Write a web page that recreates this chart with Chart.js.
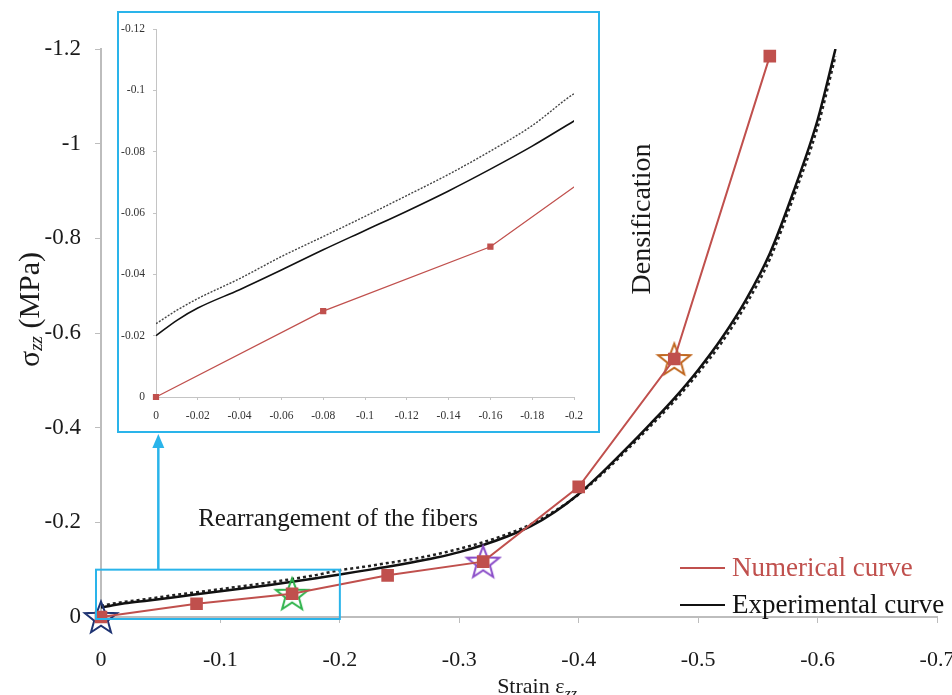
<!DOCTYPE html>
<html>
<head>
<meta charset="utf-8">
<script src="https://cdn.jsdelivr.net/npm/chart.js@4.4.1/dist/chart.umd.min.js"></script>
<style>
  body { margin: 0; background: #fff; }
  #wrap { position: relative; width: 952px; height: 695px; }
  #mainChart { position: absolute; left: 0; top: 0; }
  #insetBox {
    position: absolute; left: 117px; top: 11px;
    width: 479px; height: 418px;
    border: 2px solid #2ab4ea; background: #fff;
  }
  #insetChart { position: absolute; left: 0; top: 0; }
</style>
</head>
<body>
<div id="wrap">
  <canvas id="mainChart" width="952" height="695"></canvas>
  <div id="insetBox"><canvas id="insetChart" width="479" height="418"></canvas></div>
</div>
<script>
// Numerical model (red squares)
const numStrain = [0, -0.08, -0.16, -0.24, -0.32, -0.40, -0.48, -0.56];
const numStress = [0, -0.028, -0.049, -0.088, -0.117, -0.275, -0.545, -1.185];

// Experimental curve (solid) and its repeat (dashed)
const expStrain = [0, -0.01, -0.02, -0.04, -0.06, -0.08, -0.10, -0.12, -0.14, -0.16, -0.18, -0.20,
                   -0.22, -0.24, -0.26, -0.28, -0.30, -0.32, -0.34, -0.36, -0.38, -0.40,
                   -0.42, -0.44, -0.46, -0.48, -0.50, -0.52, -0.54, -0.56, -0.58, -0.60, -0.615];
const expStress = [-0.0200, -0.0250, -0.0290, -0.0350, -0.0414, -0.0480, -0.0543, -0.0606, -0.0672, -0.0743, -0.0818, -0.0900,
                   -0.098, -0.106, -0.115, -0.125, -0.137, -0.152, -0.170, -0.192, -0.222, -0.260,
                   -0.306, -0.356, -0.408, -0.462, -0.522, -0.590, -0.670, -0.768, -0.900, -1.050, -1.200];
const expStressDash = [-0.0239, -0.0283, -0.0321, -0.0386, -0.0458, -0.0523, -0.0589, -0.0657, -0.0726, -0.0802, -0.0885, -0.0989,
                   -0.106, -0.114, -0.122, -0.132, -0.144, -0.158, -0.175, -0.196, -0.224, -0.259,
                   -0.303, -0.352, -0.403, -0.456, -0.515, -0.581, -0.660, -0.756, -0.888, -1.035, -1.185];

// Stage markers
const starStrain = [0, -0.16, -0.32, -0.48];
const starStress = [0, -0.049, -0.117, -0.545];
const starColors = ['#1f3473', '#2db34a', '#8a4cc8', '#c0671f'];

// Axis ticks
const mainXTicks = [0, -0.1, -0.2, -0.3, -0.4, -0.5, -0.6, -0.7];
const mainYTicks = [0, -0.2, -0.4, -0.6, -0.8, -1, -1.2];

const RED = '#c0504d';
const BLUE = '#2ab4ea';
const SERIF = '"Liberation Serif", "Times New Roman", serif';

function pts(xs, ys) {
    return xs.map((x, i) => ({ x: x, y: ys[i] }));
}

function fmt(v, d) {
    const r = parseFloat(v.toFixed(d));
    return r === 0 ? '0' : String(r);
}

// five-point outlined star used as a point style
function makeStar(color, r) {
    const c = document.createElement('canvas');
    const s = Math.ceil(2 * r + 4);
    c.width = s; c.height = s;
    const g = c.getContext('2d');
    g.strokeStyle = color;
    g.lineWidth = 2;
    g.lineJoin = 'miter';
    g.beginPath();
    for (let i = 0; i < 10; i++) {
        const rad = i % 2 === 0 ? r : r * 0.42;
        const a = -Math.PI / 2 + i * Math.PI / 5;
        const px = s / 2 + rad * Math.cos(a);
        const py = s / 2 + 1.5 + rad * Math.sin(a);
        if (i === 0) g.moveTo(px, py); else g.lineTo(px, py);
    }
    g.closePath();
    g.stroke();
    return c;
}

const starImages = starColors.map(c => makeStar(c, 17));

// overlays: zoom box, arrow, notes, legend, axis titles
const mainOverlay = {
    id: 'mainOverlay',
    afterDatasetsDraw(chart) {
        const ctx = chart.ctx;
        const xs = chart.scales.x, ys = chart.scales.y;
        ctx.save();

        // box around the zoomed region
        const x0 = xs.getPixelForValue(0) - 5, x1 = xs.getPixelForValue(-0.2);
        const y0 = ys.getPixelForValue(-0.1), y1 = ys.getPixelForValue(0) + 2;
        ctx.strokeStyle = BLUE;
        ctx.lineWidth = 2;
        ctx.strokeRect(x0, y0, x1 - x0, y1 - y0);

        // arrow up to the inset
        const ax = xs.getPixelForValue(-0.048);
        ctx.lineWidth = 2.5;
        ctx.beginPath();
        ctx.moveTo(ax, y0);
        ctx.lineTo(ax, 446);
        ctx.stroke();
        ctx.fillStyle = BLUE;
        ctx.beginPath();
        ctx.moveTo(ax, 434);
        ctx.lineTo(ax - 6, 448);
        ctx.lineTo(ax + 6, 448);
        ctx.closePath();
        ctx.fill();

        // stage notes
        ctx.fillStyle = '#1a1a1a';
        ctx.font = '25px ' + SERIF;
        ctx.textAlign = 'center';
        ctx.textBaseline = 'middle';
        ctx.fillText('Rearrangement of the fibers', 338, 519);
        ctx.save();
        ctx.translate(643, 219);
        ctx.rotate(-Math.PI / 2);
        ctx.font = '28px ' + SERIF;
        ctx.fillText('Densification', 0, 0);
        ctx.restore();

        // legend
        const ds = chart.data.datasets;
        const items = [
            { label: ds[0].label, color: RED, y: 568 },
            { label: ds[2].label, color: '#111', y: 605 }
        ];
        ctx.font = '27px ' + SERIF;
        ctx.textAlign = 'left';
        items.forEach(it => {
            ctx.strokeStyle = it.color;
            ctx.lineWidth = 2;
            ctx.beginPath();
            ctx.moveTo(680, it.y);
            ctx.lineTo(725, it.y);
            ctx.stroke();
            ctx.fillStyle = it.color;
            ctx.fillText(it.label, 732, it.y + 1);
        });

        // y axis title: sigma_zz (MPa)
        ctx.fillStyle = '#1a1a1a';
        ctx.save();
        ctx.translate(39, 367);
        ctx.rotate(-Math.PI / 2);
        ctx.textAlign = 'left';
        ctx.textBaseline = 'alphabetic';
        ctx.font = '30px ' + SERIF;
        let w = 0;
        ctx.fillText('\u03c3', 0, 0);
        w += ctx.measureText('\u03c3').width;
        ctx.font = 'italic 19px ' + SERIF;
        ctx.fillText('zz', w, 3);
        w += ctx.measureText('zz').width;
        ctx.font = '30px ' + SERIF;
        ctx.fillText(' (MPa)', w, 0);
        ctx.restore();

        // x axis title: Strain eps_zz
        ctx.font = '22px ' + SERIF;
        ctx.textBaseline = 'alphabetic';
        const t1 = 'Strain \u03b5';
        const w1 = ctx.measureText(t1).width;
        ctx.font = 'italic 16px ' + SERIF;
        const w2 = ctx.measureText('zz').width;
        const sx = 537 - (w1 + w2) / 2;
        ctx.font = '22px ' + SERIF;
        ctx.fillText(t1, sx, 693);
        ctx.font = 'italic 16px ' + SERIF;
        ctx.fillText('zz', sx + w1, 699);

        ctx.restore();
    }
};

new Chart(document.getElementById('mainChart'), {
    type: 'scatter',
    data: {
        datasets: [
            {
                label: 'Numerical curve',
                data: pts(numStrain, numStress),
                showLine: true,
                borderColor: RED,
                backgroundColor: RED,
                borderWidth: 2,
                pointStyle: 'rect',
                pointRadius: 7.5,
                tension: 0,
                clip: false
            },
            {
                label: 'Stages',
                data: pts(starStrain, starStress),
                pointStyle: starImages,
                showLine: false,
                clip: false
            },
            {
                label: 'Experimental curve',
                data: pts(expStrain, expStress),
                showLine: true,
                borderColor: '#111',
                borderWidth: 2.5,
                pointRadius: 0,
                cubicInterpolationMode: 'monotone'
            },
            {
                label: 'Experimental curve (repeat)',
                data: pts(expStrain, expStressDash),
                showLine: true,
                borderColor: '#222',
                borderWidth: 2.5,
                borderDash: [3, 3],
                pointRadius: 0,
                cubicInterpolationMode: 'monotone'
            }
        ]
    },
    options: {
        responsive: false,
        animation: false,
        layout: { padding: { top: 49, right: 15, left: 0, bottom: 0 } },
        plugins: { legend: { display: false }, tooltip: { enabled: false } },
        scales: {
            x: {
                type: 'linear',
                reverse: true,
                min: -0.7,
                max: 0,
                afterFit: s => { s.height = 78; s.paddingLeft = 0; s.paddingRight = 0; },
                afterBuildTicks: s => { s.ticks = mainXTicks.map(v => ({ value: v })); },
                grid: { drawOnChartArea: false, drawTicks: true, tickLength: 6, color: '#bdbdbd' },
                border: { color: '#bdbdbd', width: 2 },
                ticks: {
                    color: '#1a1a1a',
                    font: { family: SERIF, size: 22 },
                    padding: 24,
                    maxRotation: 0,
                    callback: v => fmt(v, 1)
                }
            },
            y: {
                type: 'linear',
                reverse: true,
                min: -1.2,
                max: 0,
                afterFit: s => { s.width = 101; s.paddingTop = 0; s.paddingBottom = 0; },
                afterBuildTicks: s => { s.ticks = mainYTicks.map(v => ({ value: v })); },
                grid: { drawOnChartArea: false, drawTicks: true, tickLength: 6, color: '#bdbdbd' },
                border: { color: '#bdbdbd', width: 2 },
                ticks: {
                    color: '#1a1a1a',
                    font: { family: SERIF, size: 23 },
                    padding: 14,
                    callback: v => fmt(v, 1)
                }
            }
        }
    },
    plugins: [mainOverlay]
});

// zoomed view of the first stage
new Chart(document.getElementById('insetChart'), {
    type: 'scatter',
    data: {
        datasets: [
            {
                label: 'Numerical curve',
                data: pts(numStrain, numStress),
                showLine: true,
                borderColor: RED,
                backgroundColor: RED,
                borderWidth: 1.3,
                pointStyle: 'rect',
                pointRadius: 3.5,
                tension: 0,
                clip: { left: 5, bottom: 5, top: 0, right: 0 }
            },
            {
                label: 'Experimental curve',
                data: pts(expStrain, expStress),
                showLine: true,
                borderColor: '#111',
                borderWidth: 1.6,
                pointRadius: 0,
                cubicInterpolationMode: 'monotone'
            },
            {
                label: 'Experimental curve (repeat)',
                data: pts(expStrain, expStressDash),
                showLine: true,
                borderColor: '#444',
                borderWidth: 1.4,
                borderDash: [2, 1.5],
                pointRadius: 0,
                cubicInterpolationMode: 'monotone'
            }
        ]
    },
    options: {
        responsive: false,
        animation: false,
        layout: { padding: { top: 16, right: 24, left: 0, bottom: 0 } },
        plugins: { legend: { display: false }, tooltip: { enabled: false } },
        scales: {
            x: {
                type: 'linear',
                reverse: true,
                min: -0.2,
                max: 0,
                afterFit: s => { s.height = 34; s.paddingLeft = 0; s.paddingRight = 0; },
                grid: { drawOnChartArea: false, drawTicks: true, tickLength: 3, color: '#c4c4c4' },
                border: { color: '#c4c4c4', width: 1 },
                ticks: {
                    stepSize: 0.02,
                    color: '#333',
                    font: { family: SERIF, size: 11.5 },
                    padding: 9,
                    maxRotation: 0,
                    autoSkip: false,
                    callback: v => fmt(v, 2)
                }
            },
            y: {
                type: 'linear',
                reverse: true,
                min: -0.12,
                max: 0,
                afterFit: s => { s.width = 37; s.paddingTop = 0; s.paddingBottom = 0; },
                grid: { drawOnChartArea: false, drawTicks: true, tickLength: 3, color: '#c4c4c4' },
                border: { color: '#c4c4c4', width: 1 },
                ticks: {
                    stepSize: 0.02,
                    color: '#333',
                    font: { family: SERIF, size: 11.5 },
                    padding: 8,
                    callback: v => fmt(v, 2)
                }
            }
        }
    }
});
</script>
</body>
</html>
